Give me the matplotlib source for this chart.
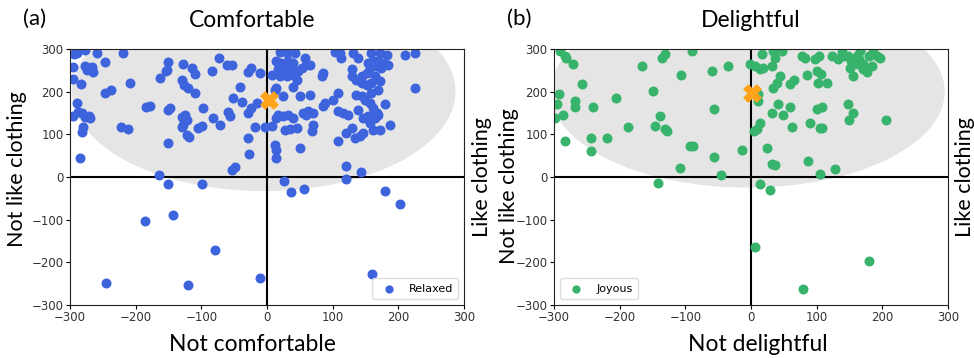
import matplotlib.pyplot as plt
from matplotlib.patches import Ellipse

# (a) Comfortable / Relaxed
relaxed_x = [-294, -289, -277, -259, -219, -295, -277, -273, -267, -265, -274, -247, -295, -283,
             -209, -247, -238, -289, -295, -288, -282, -277, -271, -270, -280, -282, -285, -222,
             -212, -184, -178, -163, -151, -152, -154, -151, -148, -151, -128, -114, -110, -129,
             -126, -120, -110, -129, -125, -122, -128, -129, -122, -119, -97, -105, -99, -84,
             -73, -61, -53, -82, -72, -59, -56, -52, -38, -41, -29, -24, -11, -29, -24, -15,
             -18, -29, -27, -53, -49, -164, -151, -99, -3,
             -186, -143, -79, -245, -120, -11, 180, 202, 160, 26, 37, 57, 121, 143, 121,
             20, 30, 42, 58, 14, 22, 32, 40, 27, 17, 22, 35, 47, 53, 60, 65, 7, 20, 30, 40,
             45, 14, 25, 40, 50, 65, 12, 86, 83, 103, 113, 111, 131, 139, 108, 101, 88, 86,
             17, 25, 32, 40, 14, 55, 63, 70, 60, 7, 27, 35, 45, 70, 68, 108, 116, 124, 139,
             146, 154, 157, 164, 169, 187, 172, 162, 129, 121, 134, 141, 146, 108, 50, 12, 14,
             14, 159, 172, 182, 154, 162, 169, 177, 185, 157, 167, 174, 152, 144, 129, 129,
             136, 144, 152, 159, 169, 164, 172, 136, 144, 149, 157, 162, 167, 179, 159, 210,
             225, 225]
relaxed_y = [288, 291, 298, 291, 291, 258, 260, 255, 258, 246, 251, 270, 230, 218,
             220, 197, 204, 173, 143, 152, 150, 141, 143, 138, 117, 105, 45, 117,
             113, 164, 166, 232, 270, 251, 248, 157, 162, 80, 265, 255, 241, 227,
             216, 209, 197, 141, 145, 134, 122, 117, 98, 94, 162, 115, 120, 248,
             279, 262, 262, 138, 122, 152, 143, 185, 176, 211, 246, 255, 244, 150, 162, 173,
             117, 91, 54, 16, 23, 5, -16, -16, 117,
             -102, -88, -172, -248, -254, -237, -32, -63, -228, -9, -36, -27, -5, 12, 25,
             294, 291, 291, 279, 271, 267, 271, 267, 255, 252, 244, 248, 248, 255, 263, 263, 240, 236, 236, 240,
             228, 209, 189, 212, 189, 193, 205, 244, 236, 294, 279, 291, 291, 279, 197, 181, 173, 166,
             146, 142, 146, 138, 138, 150, 154, 150, 146, 119, 111, 112, 115, 123, 107, 154, 150, 146, 158,
             138, 142, 127, 138, 146, 123, 111, 111, 115, 103, 91, 95, 103, 84, 68, 76, 64,
             45, 291, 291, 287, 267, 271, 271, 267, 263, 255, 259, 255, 244, 236, 252, 236,
             228, 220, 216, 220, 205, 236, 224, 193, 189, 181, 173, 162, 150, 170, 197, 287,
             291, 209]

# (b) Delightful / Joyous
joyous_x = [-291, -283, -281, -271, -258, -293, -296, -268, -268, -240, -298, -286, -283, -243,
            -243, -220, -205, -187, -166, -146, -139, -131, -128, -149, -136, -131, -90, -106,
            -93, -88, -108, -141, -57, -60, -57, -45, -35, -14,
            -2, 6, 14, 19, 32, 16, 37, 47, 34, 11, 11, 14, 9, 5, 24, 32, 36, 14, 29,
            34, 39, 44, 32, 41, 48, 60, 65, 60, 63, 85, 90, 98, 103, 77, 82, 100, 107,
            102, 115, 100, 108, 105, 108, 87, 105, 128,
            123, 133, 141, 148, 153, 161, 164, 171, 179, 184, 192, 197, 138, 151, 176, 166, 186,
            148, 156, 149, 205, 6, 179, 79, 155, 170, 163]
joyous_y = [295, 284, 280, 264, 217, 194, 170, 178, 163, 163, 139, 145, 84, 92,
            61, 92, 184, 117, 260, 120, 143, 112, 108, 202, 280, 288, 295, 238,
            73, 73, 20, -13, 159, 249, 48, 4, 260, 63,
            264, 260, 252, 256, 260, 288, 280, 295, 295, 194, 178, 127, 112, 108, 67, 31, 28, -17, -31,
            209, 221, 237, 149, 170, 145, 219, 227, 163, 117, 238, 127, 276, 284, 284, 280, 249, 242,
            221, 221, 159, 163, 114, 114, 38, 6, 18,
            284, 276, 284, 284, 272, 284, 276, 264, 284, 260, 284, 280, 292, 256, 245, 295, 292,
            170, 151, 134, 134, -163, -196, -262, 237, 252, 264]

centroid_a = (3, 180)
centroid_b = (2, 196)

# tag, title, xlabel, x, y, colour, legend name, centroid, ellipse, legend loc,
# title/xlabel x, ylabel x, ylabel y, right label x
panels = [
    ('(a)', 'Comfortable', 'Not comfortable', relaxed_x, relaxed_y, '#3d63dd', 'Relaxed',
     centroid_a, (-5, 200, 584, 466), 'lower right', 0.462, 0.462, -0.109, 0.53, 1.046),
    ('(b)', 'Delightful', 'Not delightful', joyous_x, joyous_y, '#37b36b', 'Joyous',
     centroid_b, (-5, 200, 600, 450), 'lower left', 0.5, 0.518, -0.089, 0.465, 1.043),
]

fig = plt.figure(figsize=(9.74, 3.58), dpi=100)
lefts = [70 / 974, 554 / 974]
label_font = 'Lato'

for left, (tag, title, xlab, xs, ys, col, name, cen, ell, loc, tx, xlx, ylx, yly, rx) in zip(lefts, panels):
    ax = fig.add_axes([left, 53 / 358, 394 / 974, 256 / 358])
    ax.add_patch(Ellipse((ell[0], ell[1]), ell[2], ell[3], color='#e5e5e5', zorder=0, lw=0))
    ax.axhline(0, color='black', lw=1.5, zorder=1)
    ax.axvline(0, color='black', lw=1.5, zorder=1)
    ax.scatter(xs, ys, s=38, color=col, label=name, zorder=2)
    ax.scatter([cen[0]], [cen[1]], s=150, marker='X', color='#ffa31a', zorder=3)
    ax.set_xlim(-300, 300)
    ax.set_ylim(-300, 300)
    ax.set_xticks(range(-300, 301, 100))
    ax.set_yticks(range(-300, 301, 100))
    ax.tick_params(labelsize=8.5, labelcolor='#333333', length=3, pad=1.5)
    for sp in ax.spines.values():
        sp.set_color('#222222')
    ax.set_xlabel(xlab, fontsize=16.5, family=label_font)
    ax.xaxis.set_label_coords(xlx, -0.115)
    ax.set_ylabel('Not like clothing', fontsize=15.5, family=label_font)
    ax.yaxis.set_label_coords(ylx, yly)
    ax.text(tx, 1.11, title, transform=ax.transAxes, fontsize=16.5, family=label_font,
            ha='center', va='center')
    ax.text(-0.12, 1.117, tag, transform=ax.transAxes, fontsize=16, family=label_font,
            ha='left', va='center')
    ax.text(rx, 0.5, 'Like clothing', transform=ax.transAxes, rotation=90,
            fontsize=15.5, family=label_font, ha='center', va='center')
    ax.legend(loc=loc, fontsize=8, markerscale=0.8, handletextpad=0.8,
              borderpad=0.5, framealpha=1, edgecolor='#dddddd')

fig.savefig('out.png', dpi=100)
